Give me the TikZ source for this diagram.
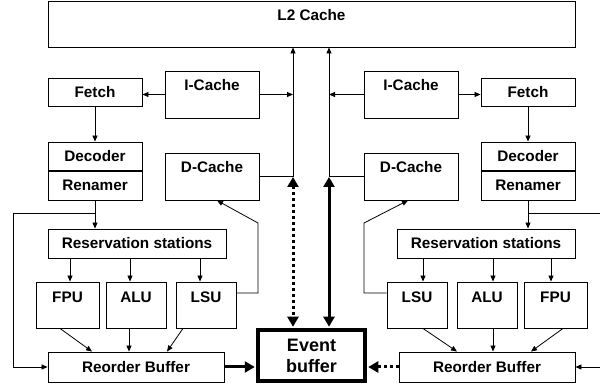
\documentclass[tikz,border=0pt]{standalone}
\usepackage{fontspec}
\setmainfont{Liberation Sans}
\usetikzlibrary{arrows.meta}
\newcommand{\fsA}{\fontsize{15.3}{18}\selectfont\bfseries}
\newcommand{\fsB}{\fontsize{18}{21}\selectfont\bfseries}
\tikzset{
  box/.style={draw=black, line width=0.9pt, inner sep=0pt, font=\fsA},
  txt/.style={anchor=north, inner sep=0pt, font=\fsA},
  evbox/.style={draw=black, line width=3.5pt, inner sep=0pt, font=\fsB, align=center},
  arr/.style={line width=0.8pt, -{Triangle[length=6pt,width=5pt]}},
  thinline/.style={line width=0.8pt},
  fatboth/.style={line width=3pt, {Triangle[length=10pt,width=11pt]}-{Triangle[length=10pt,width=11pt]}, shorten >=1.5pt},
  dotboth/.style={line width=3pt, dash pattern=on 3pt off 3pt, {Triangle[length=10pt,width=11pt]}-{Triangle[length=10pt,width=11pt]}, shorten >=1.5pt},
  fatone/.style={line width=3pt, -{Triangle[length=10pt,width=11pt]}, shorten >=1.5pt},
  dotone/.style={line width=3pt, dash pattern=on 3pt off 3pt, -{Triangle[length=10pt,width=11pt]}, shorten >=1.5pt},
  divider/.style={line width=1.8pt}
}
\begin{document}
\begin{tikzpicture}[x=1pt,y=-1pt]
\useasboundingbox (0,0) rectangle (600,387);
\clip (0,0) rectangle (600,387);

% L2
\node[box, minimum width=527pt, minimum height=46pt] (L2) at (311.5,24) {};
\node[txt] (L2t) at ([yshift=-9pt]L2.north) {L2 Cache};

% left core
\node[box, minimum width=94pt, minimum height=28pt] (fetchL) at (95,92) {Fetch};
\node[box, minimum width=94pt, minimum height=47pt] (icL) at (212,94.5) {};
\node[txt] (icLt) at ([yshift=-9pt]icL.north) {I-Cache};
\node[box, minimum width=94pt, minimum height=29pt] (decL) at (95,156.5) {Decoder};
\node[box, minimum width=94pt, minimum height=29pt] (renL) at (95,185.5) {Renamer};
\draw[divider] (renL.north west) -- (renL.north east);
\node[box, minimum width=94pt, minimum height=47pt] (dcL) at (212,176.5) {};
\node[txt] (dcLt) at ([yshift=-9pt]dcL.north) {D-Cache};
\node[box, minimum width=178pt, minimum height=29pt] (rsL) at (137,243.5) {Reservation stations};
\node[box, minimum width=63pt, minimum height=46pt] (fpuL) at (67.5,305) {};
\node[txt] (fpuLt) at ([yshift=-10pt]fpuL.north) {FPU};
\node[box, minimum width=60pt, minimum height=46pt] (aluL) at (136,305) {};
\node[txt] (aluLt) at ([yshift=-10pt]aluL.north) {ALU};
\node[box, minimum width=60pt, minimum height=46pt] (lsuL) at (206,305) {};
\node[txt] (lsuLt) at ([yshift=-10pt]lsuL.north) {LSU};
\node[box, minimum width=176pt, minimum height=30pt] (robL) at (136,367) {Reorder Buffer};

% event buffer
\node[evbox, minimum width=107pt, minimum height=51pt] (ev) at (311.5,355.5) {Event\\buffer};

% right core
\node[box, minimum width=94pt, minimum height=28pt] (fetchR) at (528,92) {Fetch};
\node[box, minimum width=94pt, minimum height=47pt] (icR) at (411,94.5) {};
\node[txt] (icRt) at ([yshift=-9pt]icR.north) {I-Cache};
\node[box, minimum width=94pt, minimum height=29pt] (decR) at (528,156.5) {Decoder};
\node[box, minimum width=94pt, minimum height=29pt] (renR) at (528,185.5) {Renamer};
\draw[divider] (renR.north west) -- (renR.north east);
\node[box, minimum width=94pt, minimum height=47pt] (dcR) at (411,176.5) {};
\node[txt] (dcRt) at ([yshift=-9pt]dcR.north) {D-Cache};
\node[box, minimum width=178pt, minimum height=29pt] (rsR) at (486,243.5) {Reservation stations};
\node[box, minimum width=60pt, minimum height=46pt] (lsuR) at (417,305) {};
\node[txt] (lsuRt) at ([yshift=-10pt]lsuR.north) {LSU};
\node[box, minimum width=60pt, minimum height=46pt] (aluR) at (487,305) {};
\node[txt] (aluRt) at ([yshift=-10pt]aluR.north) {ALU};
\node[box, minimum width=63pt, minimum height=46pt] (fpuR) at (555.5,305) {};
\node[txt] (fpuRt) at ([yshift=-10pt]fpuR.north) {FPU};
\node[box, minimum width=176pt, minimum height=30pt] (robR) at (487,367) {Reorder Buffer};

% coordinates
\coordinate (busL) at (293,177);
\coordinate (busR) at (329,177);
\coordinate (fbL) at (13,213);
\coordinate (fbR) at (612,213);
\coordinate (kL) at (258,223);
\coordinate (kR) at (364,223);
\coordinate (lsuLo) at ([yshift=12pt]lsuL.east);
\coordinate (lsuRo) at ([yshift=12pt]lsuR.west);
\coordinate (dcLin) at ([xshift=5pt]dcL.south);
\coordinate (dcRin) at ([xshift=-3pt]dcR.south);
\coordinate (fpuLin) at ([xshift=2.5pt]fpuL.north);
\coordinate (aluLin) at ([xshift=-6pt]aluL.north);
\coordinate (lsuLin) at ([xshift=-6pt]lsuL.north);
\coordinate (lsuRin) at ([xshift=6pt]lsuR.north);
\coordinate (aluRin) at ([xshift=6pt]aluR.north);
\coordinate (fpuRin) at ([xshift=-4.5pt]fpuR.north);

% buses to L2
\draw[arr] (busL) -- (busL |- L2.south);
\draw[arr] (busR) -- (busR |- L2.south);
\draw[arr] (icL.west) -- (icL.west -| fetchL.east);
\draw[arr] (icL.east) -- (icL.east -| busL);
\draw[arr] (icR.east) -- (icR.east -| fetchR.west);
\draw[arr] (icR.west) -- (icR.west -| busR);
\draw[thinline] (dcL.east) -- (dcL.east -| busL);
\draw[thinline] (dcR.west) -- (dcR.west -| busR);
\draw[dotboth] (busL) -- (busL |- ev.north);
\draw[fatboth] (busR) -- (busR |- ev.north);

% pipelines
\draw[arr] (fetchL.south) -- (decL.north);
\draw[arr] (fetchR.south) -- (decR.north);
\draw[arr] (renL.south) -- (renL.south |- rsL.north);
\draw[arr] (renR.south) -- (renR.south |- rsR.north);
\draw[arr] (renL.south |- fbL) -- (fbL) |- (robL.west);
\draw[arr] (renR.south |- fbR) -- (fbR) |- (robR.east);

\draw[arr] (fpuLin |- rsL.south) -- (fpuLin);
\draw[arr] (aluLin |- rsL.south) -- (aluLin);
\draw[arr] (lsuLin |- rsL.south) -- (lsuLin);
\draw[arr] (lsuRin |- rsR.south) -- (lsuRin);
\draw[arr] (aluRin |- rsR.south) -- (aluRin);
\draw[arr] (fpuRin |- rsR.south) -- (fpuRin);

\draw[arr] (lsuLo) -- (lsuLo -| kL) -- (kL) -- (dcLin);
\draw[arr] (lsuRo) -- (lsuRo -| kR) -- (kR) -- (dcRin);

\draw[arr] ([xshift=-7.5pt]fpuL.south) -- ([xshift=-44pt]robL.north);
\draw[arr] ([xshift=-7pt]aluL.south) -- ([xshift=-7pt]robL.north);
\draw[arr] ([xshift=-23pt]lsuL.south) -- ([xshift=31pt]robL.north);
\draw[arr] ([xshift=6pt]lsuR.south) -- ([xshift=-30pt]robR.north);
\draw[arr] ([xshift=6pt]aluR.south) -- ([xshift=6pt]robR.north);
\draw[arr] ([xshift=7.5pt]fpuR.south) -- ([xshift=44pt]robR.north);

\draw[fatone] (robL.east) -- (robL.east -| ev.west);
\draw[dotone] (robR.west) -- (robR.west -| ev.east);
\end{tikzpicture}
\end{document}
